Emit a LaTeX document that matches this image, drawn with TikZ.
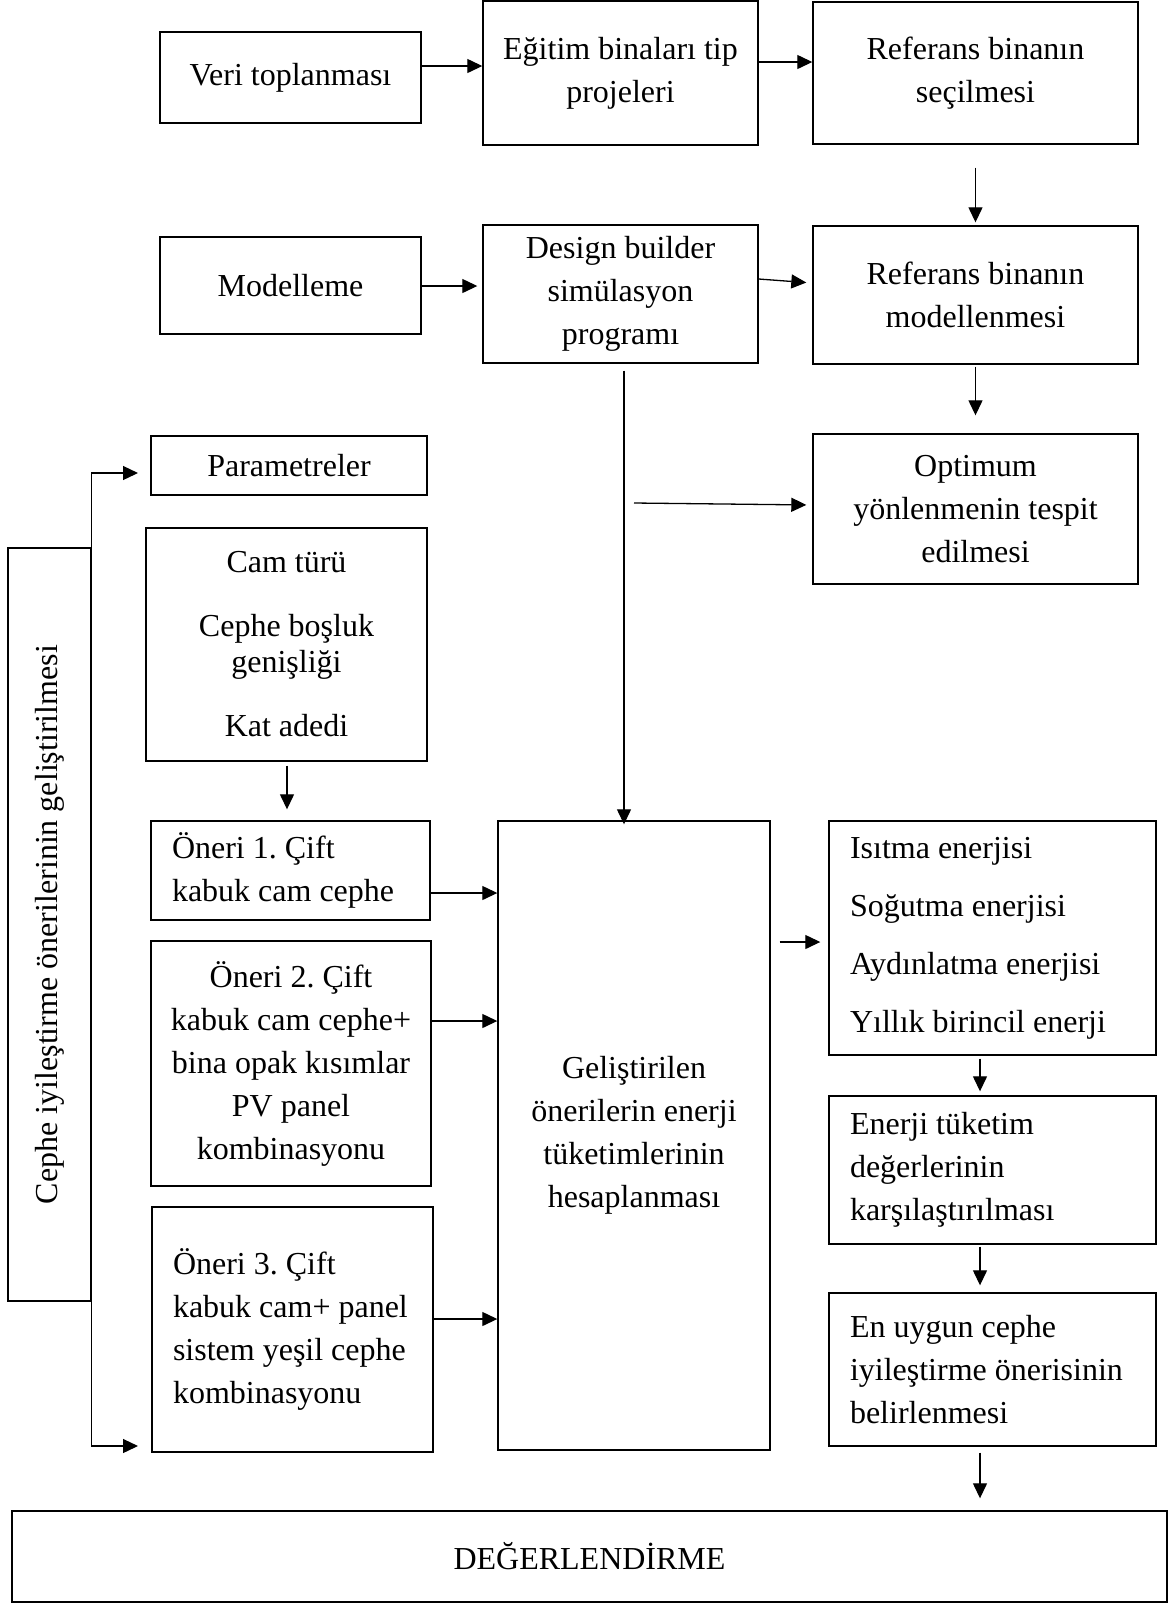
\documentclass[tikz,border=0pt]{standalone}
\usepackage{fontspec}
\setmainfont{Liberation Serif}
\usepackage{tikz}
\usetikzlibrary{arrows.meta, calc, positioning}
\frenchspacing

\newcommand{\metin}{\fontsize{16}{21.5}\selectfont}
\tikzset{
  kutu/.style={draw, line width=0.7pt, inner sep=0pt, align=center, font=\metin},
  solkutu/.style={kutu, align=flush left, inner xsep=10.5pt},
  ok/.style={-{Triangle[length=7.5pt,width=7pt]}, line width=0.65pt},
}

\begin{document}
\begin{tikzpicture}[x=0.5pt, y=-0.5pt]
      % --- Rahmen: Koordinaten in Pixeln, y nach unten ---
      \useasboundingbox (0,0) rectangle (1172,1603);
      \fill[white] (0,0) rectangle (1172,1603);

      % --- Obere Reihen ---
      \node[kutu, minimum width=130.5pt, minimum height=45.5pt] (veri) at (290.5,77.5) {Veri toplanması};
      \node[kutu, minimum width=137.5pt, minimum height=72pt] (tip) at (620.5,73) {Eğitim binaları tip\\projeleri};
      \node[kutu, minimum width=162.5pt, minimum height=71pt] (secim) at (975.5,73) {Referans binanın\\seçilmesi};

      \node[kutu, minimum width=130.5pt, minimum height=48.5pt] (model) at (290.5,285.5) {Modelleme};
      \node[kutu, minimum width=137.5pt, minimum height=69pt] (dbuilder) at (620.5,294) {Design builder\\simülasyon\\programı};
      \node[kutu, minimum width=162.5pt, minimum height=69pt] (refmodel) at (975.5,295) {Referans binanın\\modellenmesi};
      \node[kutu, minimum width=162.5pt, minimum height=75pt] (optimum) at (975.5,509) {Optimum\\yönlenmenin tespit\\edilmesi};

      % --- Linke Spalte: Parameter und Vorschläge ---
      \node[kutu, minimum width=138pt, minimum height=29.5pt] (param) at (289,465.5) {Parametreler};
      \node[kutu, minimum width=140.5pt, minimum height=116.5pt, font=\fontsize{16}{18}\selectfont]
        (kriter) at (286.5,644.5) {Cam türü\\[14pt]Cephe boşluk\\genişliği\\[14pt]Kat adedi};
      \node[solkutu, text width=118.5pt, minimum height=49.5pt] (oneri1) at (290.5,870.5)
        {Öneri 1. Çift\\\mbox{kabuk cam cephe}};
      \node[kutu, minimum width=140pt, minimum height=122.5pt] (oneri2) at (291,1063.5)
        {Öneri 2. Çift\\kabuk cam cephe+\\bina opak kısımlar\\PV panel\\kombinasyonu};
      \node[solkutu, text width=119.5pt, minimum height=122.5pt] (oneri3) at (292.5,1329.5)
        {Öneri 3. Çift\\\mbox{kabuk cam+ panel}\\\mbox{sistem yeşil cephe}\\kombinasyonu};

      % gedrehter Rahmen (rotate=90: south = rechte Seite)
      \node[kutu, rotate=90, minimum width=376.5pt, minimum height=41.5pt] (cephe) at (49.5,924.5)
        {Cephe iyileştirme önerilerinin geliştirilmesi};

      % --- Mitte und rechts ---
      \node[kutu, minimum width=136pt, minimum height=314.5pt] (hesap) at (634,1135.5)
        {Geliştirilen\\önerilerin enerji\\tüketimlerinin\\hesaplanması};
      \node[solkutu, text width=142.5pt, minimum height=117pt, font=\fontsize{16}{29}\selectfont]
        (enerji) at (992.5,938) {Isıtma enerjisi\\Soğutma enerjisi\\Aydınlatma enerjisi\\Yıllık birincil enerji};
      \node[solkutu, text width=142.5pt, minimum height=74pt] (karsi) at (992.5,1170)
        {Enerji tüketim\\değerlerinin\\karşılaştırılması};
      \node[solkutu, text width=142.5pt, minimum height=76.5pt] (uygun) at (992.5,1369.5)
        {En uygun cephe\\\mbox{iyileştirme önerisinin}\\belirlenmesi};

      \node[kutu, minimum width=577.5pt, minimum height=45.5pt] (deger) at (589.5,1556.5) {DEĞERLENDİRME};

      % --- Pfeile ---
      \draw[ok] (veri.east |- 0,66) -- (tip.west |- 0,66);
      \draw[ok] (tip.east |- 0,62) -- (secim.west |- 0,62);
      \draw[ok, shorten <=11.5pt, shorten >=1.5pt] (secim.south) -- (refmodel.north);
      \draw[ok, shorten >=2.5pt] (model.east |- 0,286) -- (dbuilder.west |- 0,286);
      \draw[ok, shorten >=3pt] (dbuilder.east |- 0,279) -- (refmodel.west |- 0,283);
      \draw[ok, shorten <=1pt, shorten >=9pt] (refmodel.south) -- (optimum.north);

      \draw[ok, shorten <=3.5pt, shorten >=-2pt] (dbuilder.south -| 624,0) -- (hesap.north -| 624,0);
      \coordinate (dal) at (634,503);
      \draw[ok, shorten >=3pt] (dal) -- (optimum.west |- 0,505);

      \draw[ok, shorten <=2pt, shorten >=5.5pt] (kriter.south -| 287,0) -- (oneri1.north -| 287,0);
      \draw[ok] (oneri1.east |- 0,893) -- (hesap.west |- 0,893);
      \draw[ok] (oneri2.east |- 0,1021) -- (hesap.west |- 0,1021);
      \draw[ok] (oneri3.east |- 0,1319) -- (hesap.west |- 0,1319);

      \draw[ok, shorten <=4.5pt, shorten >=4pt] (hesap.east |- 0,942) -- (enerji.west |- 0,942);
      \draw[ok, shorten <=1.5pt, shorten >=2pt] (enerji.south -| 980,0) -- (karsi.north -| 980,0);
      \draw[ok, shorten <=1pt, shorten >=3.5pt] (karsi.south -| 980,0) -- (uygun.north -| 980,0);
      \draw[ok, shorten <=3pt, shorten >=6pt] (uygun.south -| 980,0) -- (deger.north -| 980,0);

      % Klammer links
      \coordinate (ust) at (138,473);
      \coordinate (alt) at (138,1446);
      \draw[ok] (cephe.south east) |- (ust);
      \draw[ok] (cephe.south west) |- (alt);
    \end{tikzpicture}
\end{document}
